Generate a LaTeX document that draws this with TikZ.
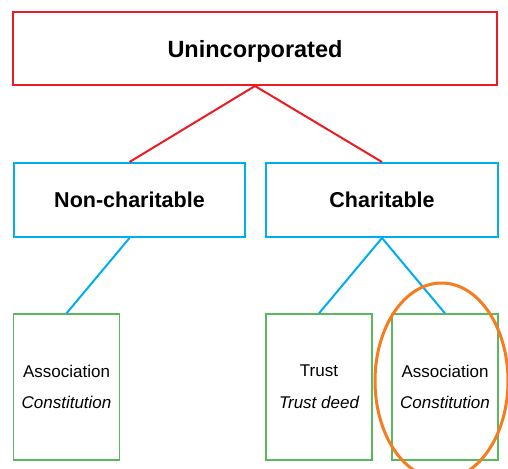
\documentclass[tikz,border=0pt]{standalone}
\usepackage{fontspec}
\setmainfont{Liberation Sans}
\definecolor{boxred}{RGB}{237,28,36}
\definecolor{boxblue}{RGB}{0,174,239}
\definecolor{boxgreen}{RGB}{92,184,92}
\definecolor{ringorange}{RGB}{245,125,32}
\begin{document}
\begin{tikzpicture}[x=1pt,y=-1pt,
  topbox/.style={draw=boxred,line width=2pt,rectangle,minimum width=484pt,minimum height=73pt,
    text depth=0pt,font=\fontsize{23.5}{28}\selectfont\bfseries},
  midbox/.style={draw=boxblue,line width=2pt,rectangle,minimum width=231pt,minimum height=74pt,
    text depth=0pt,font=\fontsize{21.5}{26}\selectfont\bfseries},
  leafbox/.style={draw=boxgreen,line width=1.3pt,rectangle,minimum width=106pt,minimum height=146pt,
    align=center,font=\fontsize{17}{31.7}\selectfont},
  redlink/.style={draw=boxred,line width=2pt},
  bluelink/.style={draw=boxblue,line width=2pt},
  ring/.style={draw=ringorange,line width=3pt}]
\useasboundingbox (0,0) rectangle (508,468);
\fill[white] (0,0) rectangle (508,468);

% levels of the tree
\node[topbox] (unin) at (255,48.5) {Unincorporated};
\node[midbox] (nonchar) at (129.5,200) {Non-charitable};
\node[midbox,minimum width=232pt] (char) at (382,200) {Charitable};
\node[leafbox,minimum width=105.5pt] (assocA) at (66.5,387) {Association\\\itshape Constitution};
\node[leafbox] (trust) at (319,387) {Trust\\\itshape Trust deed};
\node[leafbox] (assocB) at (445,387) {Association\\\itshape Constitution};

% branches
\draw[redlink] (nonchar.north) -- (unin.south) -- (char.north);
\draw[bluelink] (nonchar.south) -- (assocA.north);
\draw[bluelink] (trust.north) -- (char.south) -- (assocB.north);

% highlight ring
\coordinate (hl) at (441.5,381);
\draw[ring] (hl) ellipse [x radius=66.5, y radius=98];
\end{tikzpicture}
\end{document}
